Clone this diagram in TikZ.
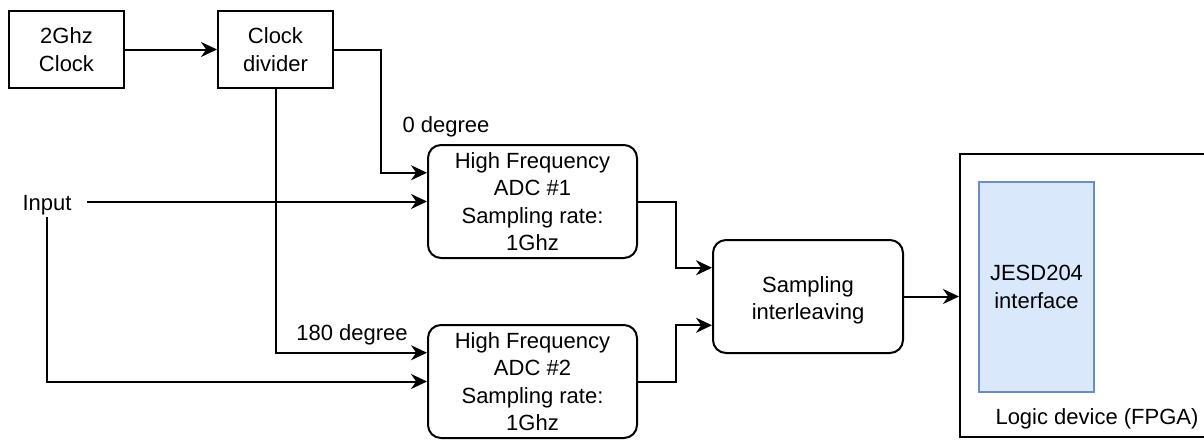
\documentclass[tikz,border=0pt]{standalone}
\usepackage{fontspec}
\setmainfont{Liberation Sans}
\usetikzlibrary{arrows.meta,calc}
\definecolor{jfill}{HTML}{DAE8FC}
\definecolor{jline}{HTML}{6C8EBF}
\newcommand{\lowered}[2]{\raisebox{-#1}[\height][\depth]{#2}}
\tikzset{
  every node/.style={font=\fontsize{11}{13.7}\selectfont, align=center, inner sep=0pt},
  box/.style={draw=black, line width=1pt},
  rbox/.style={box, rounded corners=6.5pt},
  wire/.style={line width=1pt},
  arr/.style={wire, -{Stealth[length=8pt, width=7.5pt, inset=2.6pt]}},
  lbl/.style={}
}
\begin{document}
\begin{tikzpicture}[x=0.5pt, y=-0.5pt]
\useasboundingbox (0,0) rectangle (1204,439);
\clip (0,0) rectangle (1204,439);

% clock chain
\node[box, minimum width=57.5pt, minimum height=38.5pt] (clk) at (66.5,49.5) {2Ghz\\Clock};
\node[box, minimum width=57.5pt, minimum height=38.5pt] (div) at (275.5,49.5) {Clock\\divider};

% converters
\node[rbox, minimum width=104.5pt, minimum height=56.5pt] (adc1) at (532.5,201.5)
  {High Frequency\\ADC \#1\\Sampling rate:\\1Ghz};
\node[rbox, minimum width=104.5pt, minimum height=56.5pt] (adc2) at (532.5,381.5)
  {High Frequency\\ADC \#2\\Sampling rate:\\1Ghz};

% input source
\node[minimum width=40pt, minimum height=15pt] (in) at (47,201.5) {\lowered{2pt}{Input}};

% interleaver
\node[rbox, minimum width=95pt, minimum height=56.5pt] (sil) at (808,296.5)
  {\lowered{2pt}{\begin{tabular}{@{}c@{}}Sampling\\interleaving\end{tabular}}};

% logic device with its interface block
\node[box, minimum width=135pt, minimum height=141.5pt] (fpga) at (1095,295.5) {};
\node[draw=jline, fill=jfill, line width=1pt, minimum width=57.5pt, minimum height=105pt] (jesd) at (1036.5,287) {JESD204\\interface};
\node[lbl] (fpgalbl) at (1097,419) {Logic device (FPGA)};

% phase labels
\node[lbl] (deg0) at (446,127) {0 degree};
\node[lbl] (deg180) at (352,335) {180 degree};

% connectors
\draw[arr] (clk.east) -- (div.west);
\draw[arr] (div.east) -- ++(47,0) |- ($(adc1.north west)!0.25!(adc1.south west)$);
\draw[arr] (div.south) |- ($(adc2.north west)!0.25!(adc2.south west)$);
\draw[arr] (in.east) -- (adc1.west);
\draw[arr] (in.south) |- (adc2.west);
\draw[arr] (adc1.east) -- ++(38,0) |- ($(sil.north west)!0.25!(sil.south west)$);
\draw[arr] (adc2.east) -- ++(38,0) |- ($(sil.north west)!0.75!(sil.south west)$);
\draw[arr] (sil.east) -- (sil.east -| fpga.west);
\end{tikzpicture}
\end{document}
